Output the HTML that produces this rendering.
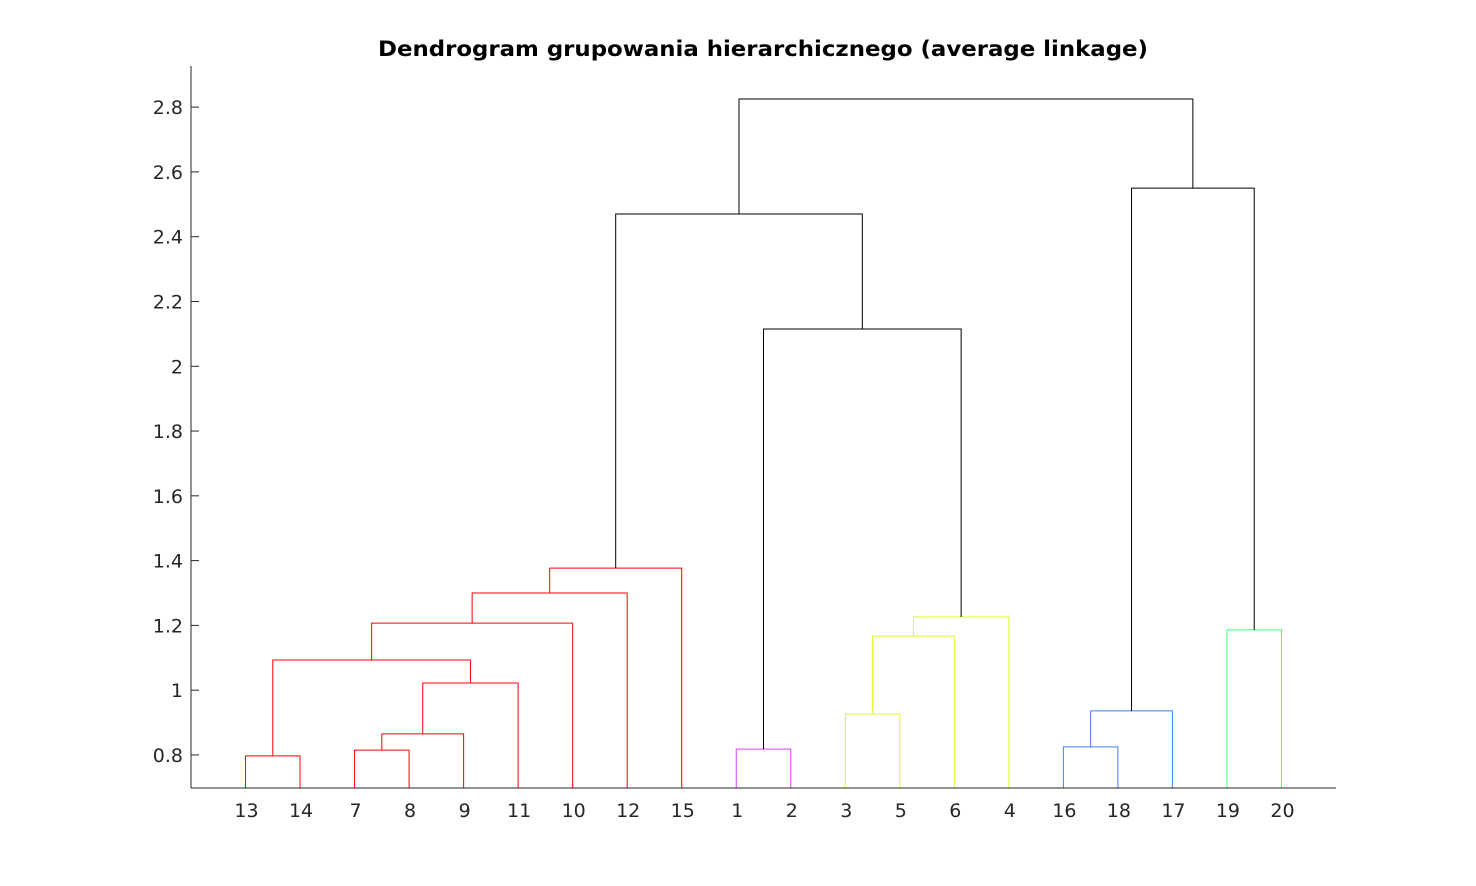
<!DOCTYPE html>
<html><head><meta charset="utf-8"><style>
body{margin:0;background:#fff;}
svg{display:block;font-family:"DejaVu Sans","Liberation Sans",sans-serif;}
</style></head><body>
<svg id="c" width="1476" height="886">
<rect width="1476" height="886" fill="#fff"/>
<text x="763" y="56" text-anchor="middle" font-size="21" font-weight="bold" fill="#000" textLength="770" lengthAdjust="spacingAndGlyphs">Dendrogram grupowania hierarchicznego (average linkage)</text>
<g id="marks"></g>
<g id="axes"></g>
</svg>
<script>
const leafOrder = [13,14,7,8,9,11,10,12,15,1,2,3,5,6,4,16,18,17,19,20];
const mergeHeight= [0.797,0.815,0.865,1.022,1.093,1.207,1.30,1.377,0.818,0.927,1.167,1.226,2.115,0.825,0.936,1.186,2.55,2.47,2.825];
const mergeColor = ['#ff0000','#ff0000','#ff0000','#ff0000','#ff0000','#ff0000','#ff0000','#ff0000','#df3fff','#dfff1f','#dfff1f','#dfff1f','#000','#3f7fff','#3f7fff','#3fff7f','#000','#000','#000'];
const yTicks = [0.8,1,1.2,1.4,1.6,1.8,2,2.2,2.4,2.6,2.8];
const yMin=0.698, yMax=2.927;
</script>
<script>
const L=[[13,14],[7,8],[22,9],[23,11],[21,24],[25,10],[26,12],[27,15],[1,2],[3,5],[30,6],[31,4],[29,32],[16,18],[34,17],[19,20],[35,36],[28,33],[38,37]];
const X0=191,X1=1336,Y0=66,Y1=788;
const xs=i=>X0+(X1-X0)*(i+1)/21;
const ys=v=>Y1-(v-yMin)/(yMax-yMin)*(Y1-Y0);
const pos={},hgt={};
leafOrder.forEach((l,i)=>{pos[l]=xs(i);hgt[l]=yMin;});
const NS='http://www.w3.org/2000/svg';
const g=document.getElementById('marks');
L.forEach((m,k)=>{
  const id=21+k,a=m[0],b=m[1],h=mergeHeight[k],col=mergeColor[k];
  const xa=pos[a],xb=pos[b],yh=ys(h);
  const p=document.createElementNS(NS,'path');
  p.setAttribute('d',`M${xa},${ys(hgt[a])}V${yh}H${xb}V${ys(hgt[b])}`);
  p.setAttribute('fill','none');p.setAttribute('stroke',col);p.setAttribute('stroke-width','1');
  
  
  g.appendChild(p);
  pos[id]=(xa+xb)/2;hgt[id]=h;
});
const ax=document.getElementById('axes');
ax.innerHTML=`<line x1="${X0}" y1="${Y0}" x2="${X0}" y2="${Y1}" stroke="#262626"/><line x1="${X0}" y1="${Y1}" x2="${X1}" y2="${Y1}" stroke="#262626"/>`;
yTicks.forEach(t=>{
  const y=ys(t);
  const l=document.createElementNS(NS,'line');
  l.setAttribute('x1',X0);l.setAttribute('x2',X0+8);l.setAttribute('y1',y);l.setAttribute('y2',y);l.setAttribute('stroke','#262626');
  
  
  ax.appendChild(l);
  const tx=document.createElementNS(NS,'text');
  tx.setAttribute('x',X0-8);tx.setAttribute('y',y+7);tx.setAttribute('text-anchor','end');tx.setAttribute('font-size','19');tx.setAttribute('fill','#262626');
  tx.textContent=String(t);
  
  
  ax.appendChild(tx);
});
leafOrder.forEach((l,i)=>{
  const tx=document.createElementNS(NS,'text');
  tx.setAttribute('x',xs(i)+1);tx.setAttribute('y',Y1+29);tx.setAttribute('text-anchor','middle');tx.setAttribute('font-size','19');tx.setAttribute('fill','#262626');
  tx.textContent=String(l);
  
  
  ax.appendChild(tx);
});
</script>
</body></html>
